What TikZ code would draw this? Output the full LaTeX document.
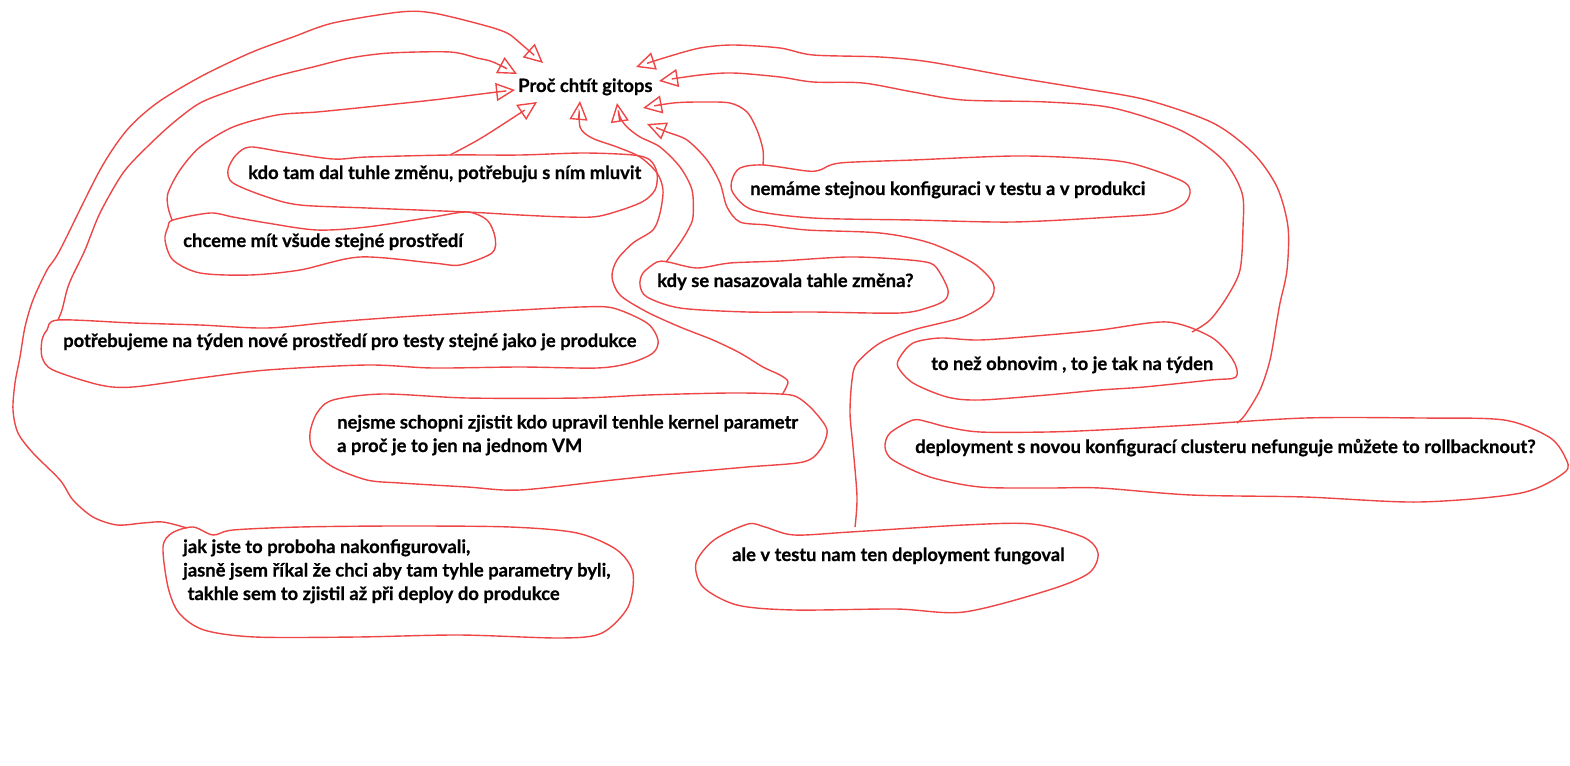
\documentclass[tikz,border=0pt]{standalone}
\usepackage{fontspec}
\setmainfont{Lato}[BoldFeatures={FakeBold=0.7}]
\usepackage{tikz}
\usetikzlibrary{arrows.meta}
\definecolor{pen}{RGB}{238,70,70}

\begin{document}
\begin{tikzpicture}[x=1pt, y=-1pt, every node/.style={anchor=base west, inner sep=0pt, align=left, font=\fontsize{18.4}{23.5}\selectfont\bfseries}, blob/.style={draw=pen, line width=1.4pt, line join=round}, conn/.style={draw=pen, line width=1.4pt, -{Triangle[open, length=19pt, width=18pt]}}]
	\useasboundingbox (0,0) rectangle (1570,765);
	
	\node (gitops) at (518,92) {Proč chtít gitops};
	\node (kdo) at (248,179) {kdo tam dal tuhle změnu, potřebuju s ním mluvit};
	\node (chceme) at (183,247) {chceme mít všude stejné prostředí};
	\node (potreba) at (63,347) {potřebujeme na týden nové prostředí pro testy stejné jako je produkce};
	\node (nejsme) at (337,452) {nejsme schopni zjistit kdo upravil tenhle kernel parametr\\a proč je to jen na jednom VM};
	\node (jak) at (183,600) {jak jste to proboha nakonfigurovali,\\jasně jsem říkal že chci aby tam tyhle parametry byli,\\\ takhle sem to zjistil až při deploy do produkce};
	\node (kdy) at (657,287) {kdy se nasazovala tahle změna?};
	\node (nemame) at (750,195) {nemáme stejnou konfiguraci v testu a v produkci};
	\node (obnova) at (931,370) {to než obnovim , to je tak na týden};
	\node (rollback) at (915,453) {deployment s novou konfigurací clusteru nefunguje můžete to rollbacknout?};
	\node (ale) at (732,561) {ale v testu nam ten deployment fungoval};
	
	\draw[blob] plot[smooth cycle] coordinates {(250,147) (283,152) (333,159) (367,157) (450,155) (520,155) (583,153) (633,155) (650,160) (657,173) (655,190) (640,203) (600,216) (567,217) (520,215) (467,212) (367,208) (300,205) (267,197) (233,183) (228,170) (236,155)};
	\draw[blob] plot[smooth cycle] coordinates {(173,220) (210,213) (233,217) (267,223) (317,230) (367,227) (433,217) (467,212) (487,220) (495,237) (492,253) (460,265) (433,263) (360,257) (300,270) (250,275) (200,273) (173,260) (165,240) (168,227)};
	\draw[blob] plot[smooth cycle] coordinates {(58,320) (133,323) (200,325) (267,328) (333,322) (400,317) (467,313) (520,310) (580,307) (613,308) (647,323) (658,340) (653,353) (630,363) (597,368) (520,367) (433,368) (367,365) (267,370) (200,378) (133,387) (100,385) (53,370) (42,357) (42,340) (47,330)};
	\draw[blob] plot[smooth cycle] coordinates {(333,400) (383,394) (467,398) (580,398) (647,395) (730,393) (780,394) (797,397) (813,410) (827,430) (820,450) (803,462) (747,467) (680,473) (613,480) (520,490) (467,487) (400,483) (367,480) (333,467) (313,450) (310,433) (317,413)};
	\draw[blob] plot[smooth cycle] coordinates {(193,527) (213,535) (233,530) (300,527) (400,526) (510,527) (577,533) (617,550) (633,573) (628,607) (602,633) (561,638) (459,635) (357,637) (255,637) (204,630) (179,613) (168,587) (163,547) (172,533)};
	\draw[blob] plot[smooth cycle] coordinates {(668,262) (697,268) (730,263) (780,261) (847,257) (897,259) (930,263) (940,273) (948,290) (945,300) (930,307) (900,313) (813,312) (747,312) (680,308) (647,297) (640,285) (643,273) (657,262)};
	\draw[blob] plot[smooth cycle] coordinates {(763,165) (807,171) (820,170) (840,163) (913,160) (1013,156) (1080,158) (1130,163) (1180,180) (1190,190) (1185,203) (1163,213) (1113,217) (1013,222) (913,220) (813,218) (753,210) (733,193) (732,180) (740,168)};
	\draw[blob] plot[smooth cycle] coordinates {(940,338) (980,340) (1047,335) (1100,330) (1167,322) (1211,337) (1233,360) (1236,377) (1211,380) (1144,387) (1100,390) (1047,395) (980,400) (947,397) (913,383) (898,367) (900,357) (913,343)};
	\draw[blob] plot[smooth cycle] coordinates {(928,422) (947,427) (980,432) (1047,432) (1100,430) (1191,425) (1305,418) (1420,418) (1504,420) (1549,437) (1565,457) (1565,472) (1521,493) (1419,502) (1305,497) (1191,495) (1100,488) (1047,488) (980,487) (930,477) (893,460) (885,447) (890,433) (913,420)};
	\draw[blob] plot[smooth cycle] coordinates {(765,527) (794,535) (850,532) (964,525) (1032,524) (1083,537) (1098,553) (1089,573) (1049,590) (964,612) (896,609) (794,610) (737,605) (703,587) (696,563) (714,540) (748,524)};
	
	\coordinate (jak-out) at (187,528);
	\coordinate (potreba-out) at (58,320);
	\coordinate (chceme-out) at (172,220);
	\coordinate (kdo-out) at (450,155);
	\coordinate (nejsme-out) at (782,395);
	\coordinate (kdy-out) at (666,262);
	\coordinate (nemame-out) at (763,165);
	\coordinate (ale-out) at (855,527);
	\coordinate (obnova-out) at (1192,332);
	\coordinate (rollback-out) at (1237,423);
	
	\coordinate (in-jak) at (543,63);
	\coordinate (in-potreba) at (517,74);
	\coordinate (in-chceme) at (515,90);
	\coordinate (in-kdo) at (537,102);
	\coordinate (in-nejsme) at (580,101);
	\coordinate (in-kdy) at (617,103);
	\coordinate (in-nemame) at (643,108);
	\coordinate (in-ale) at (647,124);
	\coordinate (in-obnova) at (659,81);
	\coordinate (in-rollback) at (636,67);
	
	\draw[conn] plot[smooth] coordinates {(jak-out) (163,522) (143,523) (117,525) (93,517) (73,500) (60,480) (33,453) (18,433) (13,410) (15,383) (20,357) (25,327) (33,300) (47,270) (60,250) (100,170) (127,130) (157,103) (200,77) (250,53) (293,37) (333,23) (400,12) (433,13) (483,25) (507,33) (520,43) (in-jak)};
	\draw[conn] plot[smooth] coordinates {(potreba-out) (62,310) (67,290) (72,277) (85,250) (100,213) (123,173) (147,147) (173,123) (200,103) (233,90) (273,77) (313,67) (350,58) (390,53) (450,52) (477,58) (493,62) (in-potreba)};
	\draw[conn] plot[smooth] coordinates {(chceme-out) (168,207) (168,193) (180,170) (200,147) (233,127) (277,115) (317,112) (367,107) (433,100) (473,95) (497,92) (in-chceme)};
	\draw[conn] plot[smooth] coordinates {(kdo-out) (483,137) (in-kdo)};
	\draw[conn] plot[smooth] coordinates {(nejsme-out) (788,382) (780,375) (763,367) (740,353) (713,340) (680,327) (647,312) (620,295) (612,277) (617,260) (633,243) (653,230) (660,213) (663,190) (657,173) (640,157) (617,147) (592,138) (580,127) (in-nejsme)};
	\draw[conn] plot[smooth] coordinates {(kdy-out) (680,243) (688,230) (693,217) (692,190) (680,167) (660,147) (640,137) (627,127) (620,117) (in-kdy)};
	\draw[conn] plot[smooth] coordinates {(nemame-out) (763,150) (757,130) (747,112) (730,103) (700,102) (673,103) (in-nemame)};
	\draw[conn] plot[smooth] coordinates {(ale-out) (857,497) (853,447) (850,413) (852,380) (857,363) (880,343) (913,330) (963,317) (990,300) (993,283) (973,263) (930,243) (880,233) (807,230) (767,225) (740,222) (727,207) (720,183) (707,160) (687,140) (667,132) (in-ale)};
	\draw[conn] plot[smooth] coordinates {(obnova-out) (1210,320) (1227,297) (1240,270) (1243,227) (1242,193) (1223,160) (1180,130) (1113,108) (1047,102) (963,100) (913,92) (863,83) (813,82) (780,77) (733,73) (700,75) (in-obnova)};
	\draw[conn] plot[smooth] coordinates {(rollback-out) (1245,415) (1260,390) (1270,360) (1277,320) (1280,303) (1287,270) (1288,227) (1277,187) (1253,153) (1213,123) (1147,100) (1080,88) (1013,77) (930,62) (880,57) (813,55) (780,48) (733,45) (700,48) (667,57) (in-rollback)};
\end{tikzpicture}
\end{document}
